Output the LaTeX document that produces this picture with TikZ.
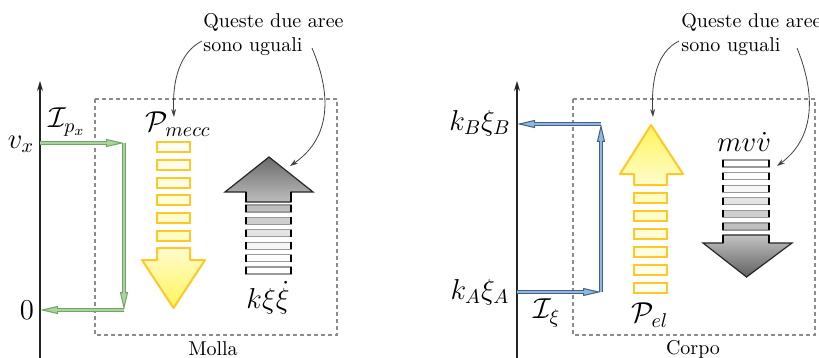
\documentclass[tikz,border=0pt]{standalone}
\usetikzlibrary{arrows.meta}
\definecolor{gdark}{RGB}{112,165,102}
\definecolor{glight}{RGB}{172,210,160}
\definecolor{bdark}{RGB}{70,95,130}
\definecolor{blight}{RGB}{140,185,225}
\definecolor{yedge}{RGB}{255,200,40}
\definecolor{ytip}{RGB}{255,245,90}
\definecolor{ybase}{RGB}{255,252,205}
\definecolor{yfill}{RGB}{255,251,222}
\definecolor{boxgray}{RGB}{140,140,140}
\tikzset{
  flowG/.style={line width=2.2pt, draw=gdark,
    -{Triangle[length=9pt,width=4pt,line width=0.5pt,fill=glight]},
    postaction={draw=glight,line width=1pt,-,shorten >=8pt}},
  flowB/.style={line width=2.2pt, draw=bdark,
    -{Triangle[length=9pt,width=4pt,line width=0.5pt,fill=blight]},
    postaction={draw=blight,line width=1pt,-,shorten >=8pt}},
  ybar/.style={draw=yedge, line width=1pt, fill=yfill},
  yarrow/.style={draw=yedge, line width=1pt},
  gbar/.style={draw=black!40, line width=0.6pt},
  gside/.style={draw=black, line width=1.2pt},
  garrow/.style={draw=black!85, line width=0.6pt},
  sysbox/.style={draw=boxgray, dashed, dash pattern=on 2pt off 1.5pt, line width=0.6pt},
  axis/.style={draw=black!85, line width=0.6pt, -{Stealth[length=5pt,width=3pt]}},
  note/.style={draw=black!75, line width=0.4pt, -{Stealth[length=4pt,width=2.5pt]}},
  mlab/.style={inner sep=0pt, font=\Large},
  tlab/.style={inner sep=0pt, font=\normalsize},
}
\begin{document}
\begin{tikzpicture}[x=0.5pt,y=-0.5pt]
\useasboundingbox (0,0) rectangle (819,358);

% ================= LEFT PANEL (Molla) =================
\draw[sysbox] (95,99) rectangle (337,335);
\node[tlab] (molla) at (213,349) {Molla};
\coordinate (axL0) at (40,358);
\coordinate (axL1) at (40,81);
\draw[axis] (axL0) -- (axL1);

\node[tlab, anchor=west, align=left] (noteL) at (203,35) {Queste due aree\\sono uguali};

\node[mlab] (vx) at (21,144) {$v_x$};
\node[mlab] (zero) at (27,310) {$0$};
\node[mlab] (Ipx) at (67,122) {$\mathcal{I}_{p_x}$};
\node[mlab] (Pmecc) at (178,124) {$\mathcal{P}_{mecc}$};
\node[mlab] (kxx) at (268,298) {$k\xi\dot{\xi}$};

\coordinate (gA) at (40,143);
\coordinate (gB) at (124,143);
\coordinate (gC) at (124,310);
\coordinate (gD) at (40,310);
\draw[flowG] (gA) -- (gB);
\draw[flowG] (gB) -- (gC);
\draw[flowG] (gC) -- (gD);

% yellow arrow down
\foreach \i/\c in {0/4,1/8,2/12,3/16,4/20,5/24}{
  \draw[ybar, fill=yellow!\c] (157,142+17.8*\i) rectangle (190,152+17.8*\i);
}
\shade[top color=ybase, bottom color=ytip]
  (157,248) -- (190,248) -- (190,260) -- (205,260) -- (173.5,308) -- (142,260) -- (157,260) -- cycle;
\draw[yarrow, line join=round]
  (157,248) -- (190,248) -- (190,260) -- (205,260) -- (173.5,308) -- (142,260) -- (157,260) -- cycle;

% gray arrow up
\shade[top color=black!58, bottom color=black!26]
  (246,202) -- (246,192) -- (225,192) -- (269,157) -- (313,192) -- (291,192) -- (291,202) -- cycle;
\draw[garrow]
  (246,202) -- (246,192) -- (225,192) -- (269,157) -- (313,192) -- (291,192) -- (291,202) -- cycle;
\draw[gside] (246,192) -- (246,202) (291,192) -- (291,202);
\foreach \i/\c in {0/25,1/19,2/11,3/3,4/0,5/0}{
  \draw[gbar, fill=black!\c] (246,205+12.4*\i) rectangle (291,212+12.4*\i);
  \draw[gside] (246,205+12.4*\i) -- (246,212+12.4*\i) (291,205+12.4*\i) -- (291,212+12.4*\i);
}

\coordinate (nL1s) at (202,41);
\coordinate (nL1e) at (174,117);
\coordinate (nL2s) at (312,48);
\coordinate (nL2e) at (290,166);
\draw[note] (nL1s) .. controls (180,52) and (172,80) .. (nL1e);
\draw[note] (nL2s) .. controls (334,100) and (328,140) .. (nL2e);

% ================= RIGHT PANEL (Corpo) =================
\draw[sysbox] (573,99) rectangle (815,335);
\node[tlab] (corpo) at (693,349) {Corpo};
\coordinate (axR0) at (517,358);
\coordinate (axR1) at (517,81);
\draw[axis] (axR0) -- (axR1);

\node[tlab, anchor=west, align=left] (noteR) at (681,35) {Queste due aree\\sono uguali};

\node[mlab] (kB) at (480,123) {$k_B\xi_B$};
\node[mlab] (kA) at (480,292) {$k_A\xi_A$};
\node[mlab] (Ixi) at (547,313) {$\mathcal{I}_{\xi}$};
\node[mlab] (Pel) at (650,315) {$\mathcal{P}_{el}$};
\node[mlab] (mvv) at (744,142) {$mv\dot{v}$};

\coordinate (bA) at (517,292);
\coordinate (bB) at (601,292);
\coordinate (bC) at (601,124);
\coordinate (bD) at (517,124);
\draw[flowB] (bA) -- (bB);
\draw[flowB] (bB) -- (bC);
\draw[flowB] (bC) -- (bD);

% yellow arrow up
\foreach \i/\c in {0/24,1/20,2/16,3/12,4/8,5/4}{
  \draw[ybar, fill=yellow!\c] (634,193+18*\i) rectangle (667,203+18*\i);
}
\shade[top color=ytip, bottom color=ybase]
  (634,185) -- (634,174) -- (620,174) -- (651,125) -- (683,174) -- (667,174) -- (667,185) -- cycle;
\draw[yarrow, line join=round]
  (634,185) -- (634,174) -- (620,174) -- (651,125) -- (683,174) -- (667,174) -- (667,185) -- cycle;

% gray arrow down
\foreach \i/\c in {0/0,1/0,2/3,3/11,4/19,5/25}{
  \draw[gbar, fill=black!\c] (723,160+12.6*\i) rectangle (769,167+12.6*\i);
  \draw[gside] (723,160+12.6*\i) -- (723,167+12.6*\i) (769,160+12.6*\i) -- (769,167+12.6*\i);
}
\shade[top color=black!24, bottom color=black!62]
  (723,235) -- (769,235) -- (769,243) -- (792,243) -- (746.5,277) -- (703,243) -- (723,243) -- cycle;
\draw[garrow]
  (723,235) -- (769,235) -- (769,243) -- (792,243) -- (746.5,277) -- (703,243) -- (723,243) -- cycle;
\draw[gside] (723,235) -- (723,243) (769,235) -- (769,243);

\coordinate (nR1s) at (679,41);
\coordinate (nR1e) at (653,117);
\coordinate (nR2s) at (797,48);
\coordinate (nR2e) at (777,166);
\draw[note] (nR1s) .. controls (657,52) and (651,80) .. (nR1e);
\draw[note] (nR2s) .. controls (818,100) and (812,140) .. (nR2e);
\end{tikzpicture}
\end{document}
